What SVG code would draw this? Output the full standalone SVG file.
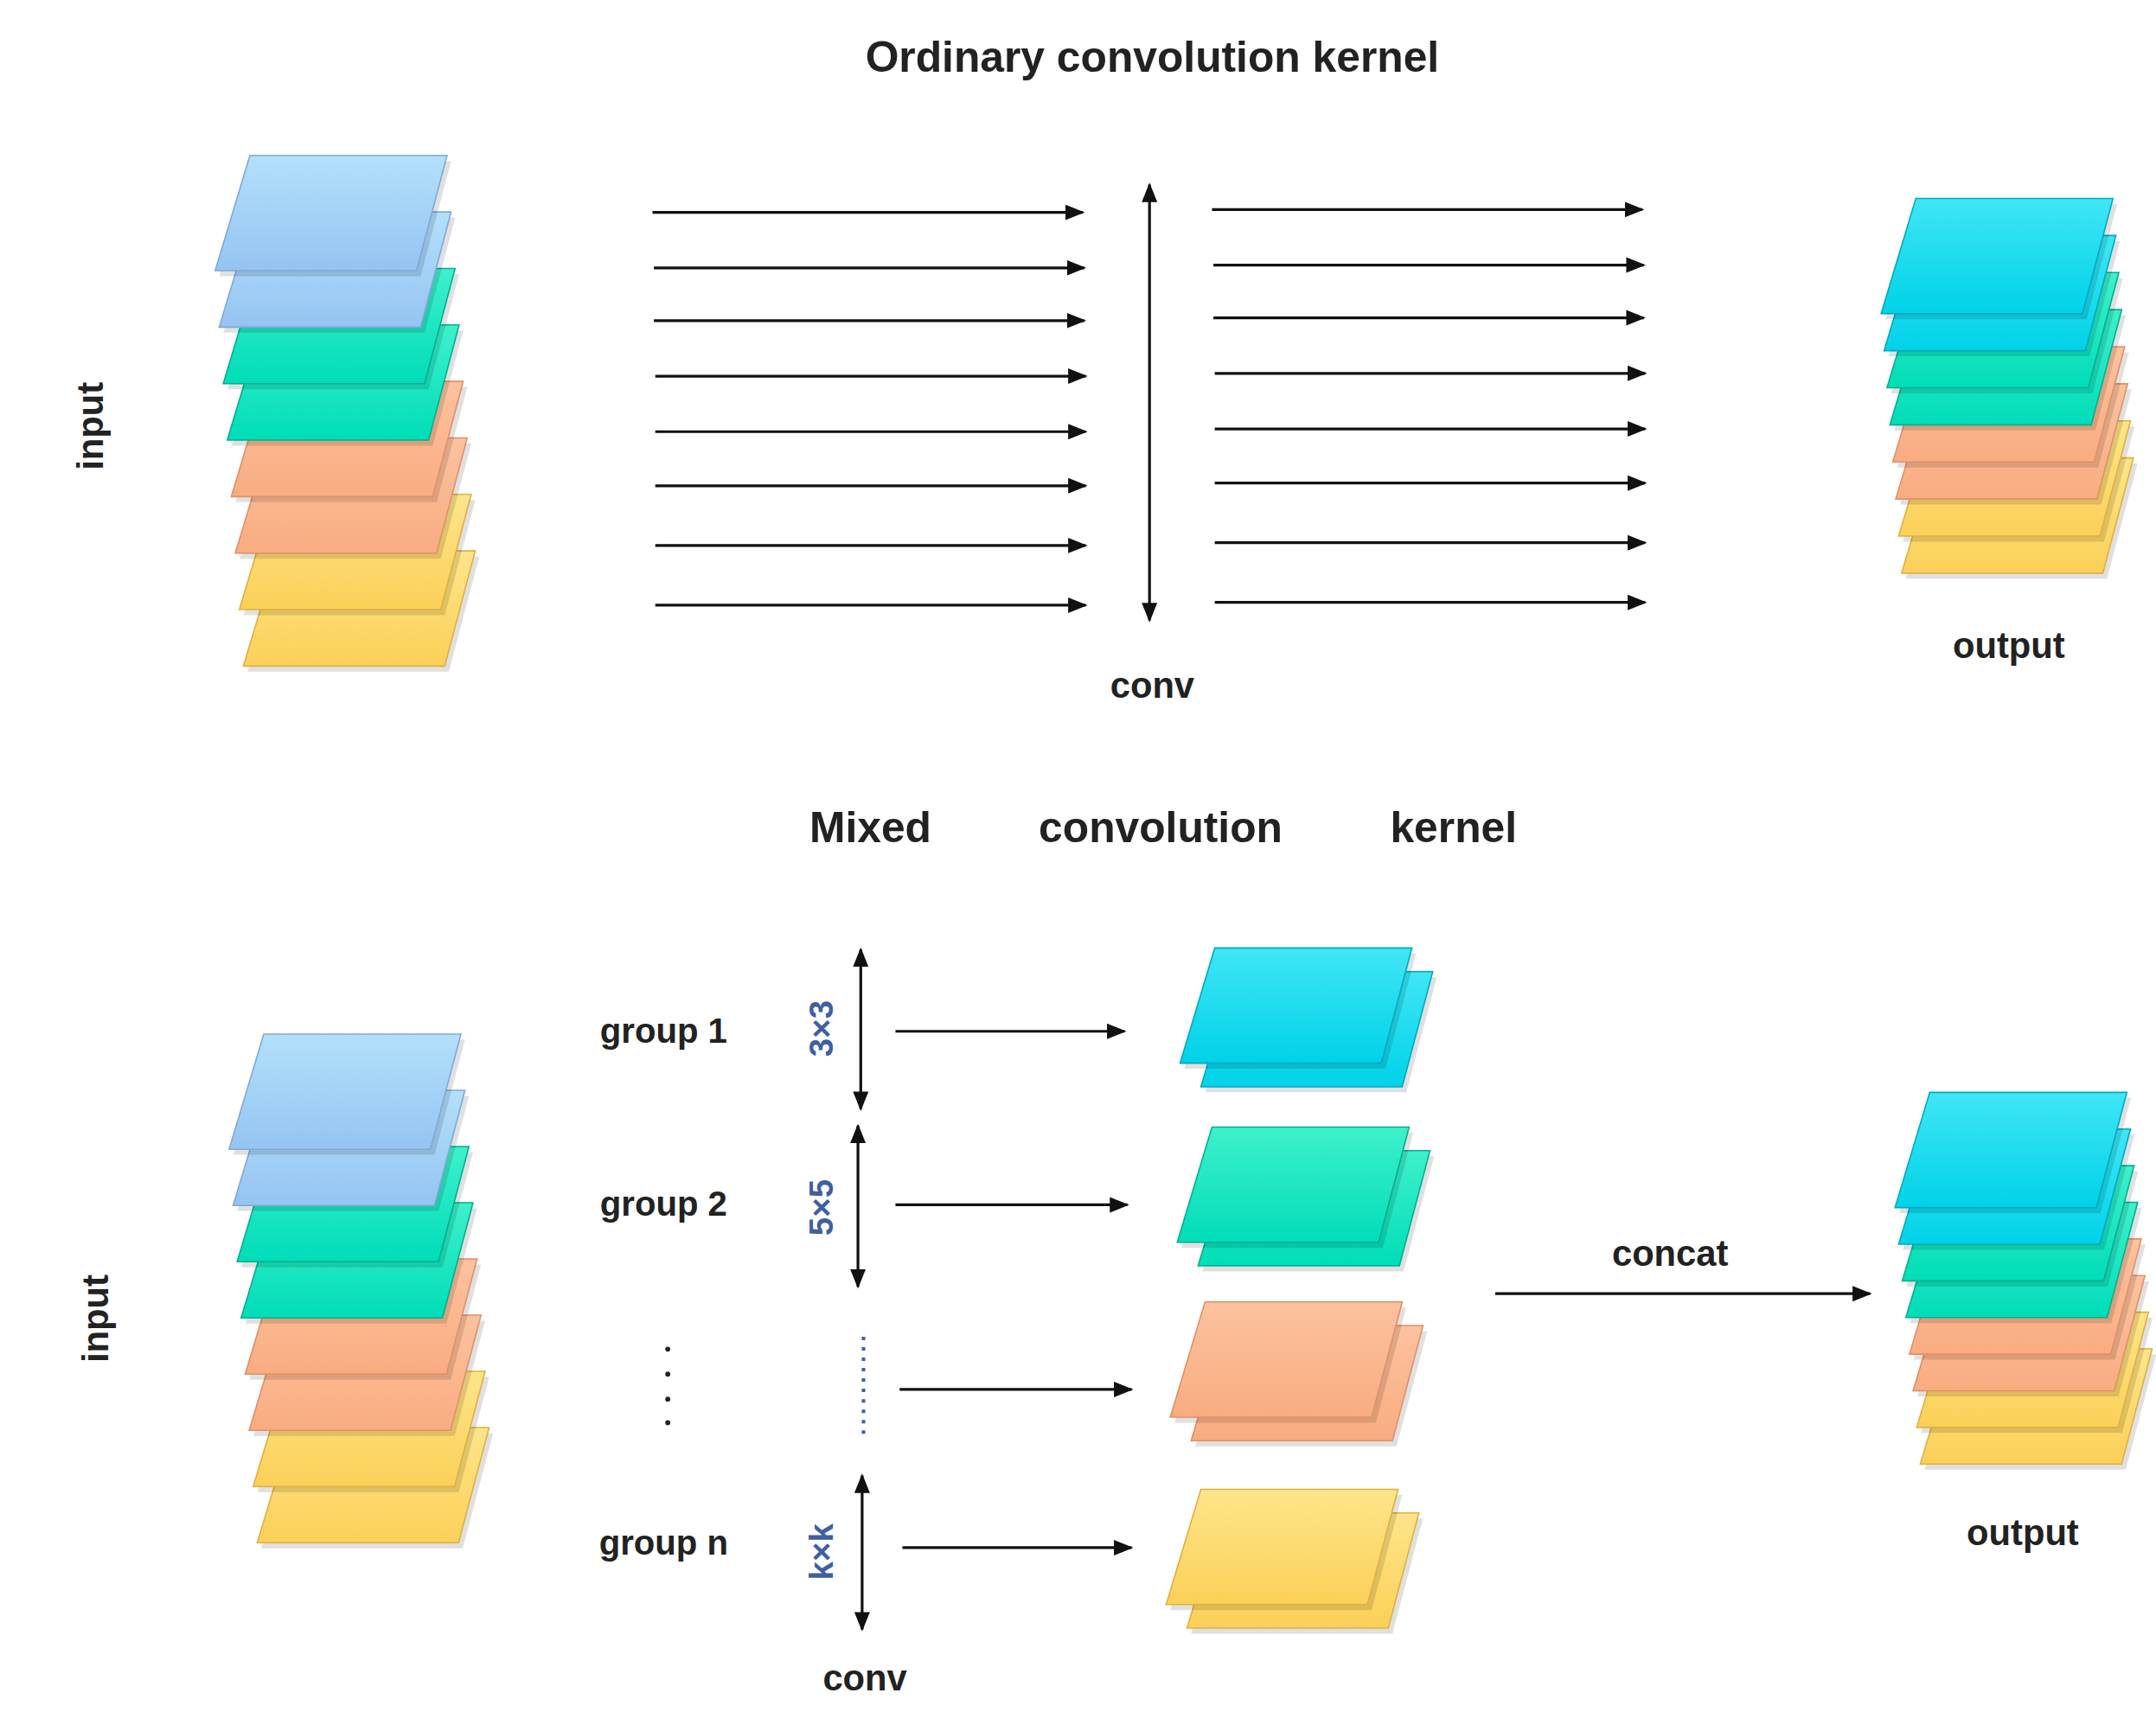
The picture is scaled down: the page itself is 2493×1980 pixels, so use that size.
<svg xmlns="http://www.w3.org/2000/svg" xmlns:xlink="http://www.w3.org/1999/xlink" width="2493" height="1980" viewBox="0 0 2493 1980">
<style>
text{font-family:"Liberation Sans",Arial,sans-serif;font-weight:bold;fill:#222}
.t{font-size:31px}.l{font-size:26px}.g{font-size:25px}.k{font-size:24px;fill:#3f5fa0}
.a{stroke:#111;stroke-width:2;fill:none}
.sh{fill:#000;opacity:0.12}
</style>
<defs>
<marker id="ah" viewBox="0 0 10 8" refX="9" refY="4" markerWidth="7" markerHeight="6" orient="auto-start-reverse" markerUnits="strokeWidth"><path d="M0,0 L10,4 L0,8 Z" fill="#111"/></marker>
<path id="s" d="M25,0 H167 L145,83 H0 Z"/>
<linearGradient id="bl" x1="0" y1="0" x2="0" y2="1"><stop offset="0" stop-color="#b3e0fb"/><stop offset="1" stop-color="#95c4f2"/></linearGradient>
<linearGradient id="gr" x1="0" y1="0" x2="0" y2="1"><stop offset="0" stop-color="#3ff0cc"/><stop offset="1" stop-color="#00ddb8"/></linearGradient>
<linearGradient id="or" x1="0" y1="0" x2="0" y2="1"><stop offset="0" stop-color="#fcc29f"/><stop offset="1" stop-color="#f9ac80"/></linearGradient>
<linearGradient id="ye" x1="0" y1="0" x2="0" y2="1"><stop offset="0" stop-color="#fee58a"/><stop offset="1" stop-color="#fbd058"/></linearGradient>
<linearGradient id="cy" x1="0" y1="0" x2="0" y2="1"><stop offset="0" stop-color="#40e6f5"/><stop offset="1" stop-color="#00d2e8"/></linearGradient>
</defs>
<rect width="2493" height="1980" fill="#fff"/>
<g transform="scale(1.6053)">
<text class="t" x="830" y="52" text-anchor="middle">Ordinary convolution kernel</text>
<text class="l" transform="translate(74,307) rotate(-90)" text-anchor="middle">input</text>
<text class="l" x="1447" y="474" text-anchor="middle">output</text>
<text class="l" x="830" y="503" text-anchor="middle">conv</text>
<text class="t" x="627" y="607" text-anchor="middle">Mixed</text>
<text class="t" x="836" y="607" text-anchor="middle">convolution</text>
<text class="t" x="1047" y="607" text-anchor="middle">kernel</text>
<text class="l" transform="translate(78,950) rotate(-90)" text-anchor="middle">input</text>
<text class="l" x="1457" y="1113" text-anchor="middle">output</text>
<text class="l" x="623" y="1218" text-anchor="middle">conv</text>
<text class="g" x="478" y="751" text-anchor="middle">group 1</text>
<text class="g" x="478" y="876" text-anchor="middle">group 2</text>
<text class="g" x="478" y="1120" text-anchor="middle">group n</text>
<text class="k" transform="translate(600,741) rotate(-90)" text-anchor="middle">3×3</text>
<text class="k" transform="translate(600,870) rotate(-90)" text-anchor="middle">5×5</text>
<text class="k" transform="translate(600,1118) rotate(-90)" text-anchor="middle">k×k</text>
<text class="l" x="1203" y="912" text-anchor="middle">concat</text>
<g id="dots" fill="#222"><circle cx="481" cy="972" r="1.8"/><circle cx="481" cy="990" r="1.8"/><circle cx="481" cy="1008" r="1.8"/><circle cx="481" cy="1025" r="1.8"/></g>
<line x1="622" y1="963" x2="622" y2="1036" stroke="#3f5fa0" stroke-width="2.5" stroke-dasharray="2.5,5"/>

<g id="input-top" stroke-width="1">
<use href="#s" class="sh" x="178.3" y="400.9"/><use href="#s" x="175.3" y="396.9" fill="url(#ye)" stroke="#e0b040"/>
<use href="#s" class="sh" x="175.4" y="360.2"/><use href="#s" x="172.4" y="356.2" fill="url(#ye)" stroke="#e0b040"/>
<use href="#s" class="sh" x="172.5" y="319.5"/><use href="#s" x="169.5" y="315.5" fill="url(#or)" stroke="#e09068"/>
<use href="#s" class="sh" x="169.6" y="278.8"/><use href="#s" x="166.6" y="274.8" fill="url(#or)" stroke="#e09068"/>
<use href="#s" class="sh" x="166.7" y="238.1"/><use href="#s" x="163.7" y="234.1" fill="url(#gr)" stroke="#00b090"/>
<use href="#s" class="sh" x="163.8" y="197.4"/><use href="#s" x="160.8" y="193.4" fill="url(#gr)" stroke="#00b090"/>
<use href="#s" class="sh" x="160.9" y="156.7"/><use href="#s" x="157.9" y="152.7" fill="url(#bl)" stroke="#80a8d8"/>
<use href="#s" class="sh" x="158" y="116"/><use href="#s" x="155" y="112" fill="url(#bl)" stroke="#80a8d8"/>
</g>
<g id="output-top">
<use href="#s" class="sh" x="1372.7" y="333.9"/><use href="#s" x="1369.7" y="329.9" fill="url(#ye)" stroke="#e0b040"/>
<use href="#s" class="sh" x="1370.6" y="307.2"/><use href="#s" x="1367.6" y="303.2" fill="url(#ye)" stroke="#e0b040"/>
<use href="#s" class="sh" x="1368.5" y="280.5"/><use href="#s" x="1365.5" y="276.5" fill="url(#or)" stroke="#e09068"/>
<use href="#s" class="sh" x="1366.4" y="253.8"/><use href="#s" x="1363.4" y="249.8" fill="url(#or)" stroke="#e09068"/>
<use href="#s" class="sh" x="1364.3" y="227.1"/><use href="#s" x="1361.3" y="223.1" fill="url(#gr)" stroke="#00b090"/>
<use href="#s" class="sh" x="1362.2" y="200.4"/><use href="#s" x="1359.2" y="196.4" fill="url(#gr)" stroke="#00b090"/>
<use href="#s" class="sh" x="1360.1" y="173.7"/><use href="#s" x="1357.1" y="169.7" fill="url(#cy)" stroke="#00aac0"/>
<use href="#s" class="sh" x="1358" y="147"/><use href="#s" x="1355" y="143" fill="url(#cy)" stroke="#00aac0"/>
</g>
<g id="input-bottom">
<use href="#s" class="sh" x="188.3" y="1032.5"/><use href="#s" x="185.3" y="1028.5" fill="url(#ye)" stroke="#e0b040"/>
<use href="#s" class="sh" x="185.4" y="992"/><use href="#s" x="182.4" y="988" fill="url(#ye)" stroke="#e0b040"/>
<use href="#s" class="sh" x="182.5" y="951.5"/><use href="#s" x="179.5" y="947.5" fill="url(#or)" stroke="#e09068"/>
<use href="#s" class="sh" x="179.6" y="911"/><use href="#s" x="176.6" y="907" fill="url(#or)" stroke="#e09068"/>
<use href="#s" class="sh" x="176.7" y="870.5"/><use href="#s" x="173.7" y="866.5" fill="url(#gr)" stroke="#00b090"/>
<use href="#s" class="sh" x="173.8" y="830"/><use href="#s" x="170.8" y="826" fill="url(#gr)" stroke="#00b090"/>
<use href="#s" class="sh" x="170.9" y="789.5"/><use href="#s" x="167.9" y="785.5" fill="url(#bl)" stroke="#80a8d8"/>
<use href="#s" class="sh" x="168" y="749"/><use href="#s" x="165" y="745" fill="url(#bl)" stroke="#80a8d8"/>
</g>
<g id="output-bottom">
<use href="#s" class="sh" x="1386.2" y="975.8"/><use href="#s" x="1383.2" y="971.8" fill="url(#ye)" stroke="#e0b040"/>
<use href="#s" class="sh" x="1383.6" y="949.4"/><use href="#s" x="1380.6" y="945.4" fill="url(#ye)" stroke="#e0b040"/>
<use href="#s" class="sh" x="1381" y="923"/><use href="#s" x="1378" y="919" fill="url(#or)" stroke="#e09068"/>
<use href="#s" class="sh" x="1378.4" y="896.6"/><use href="#s" x="1375.4" y="892.6" fill="url(#or)" stroke="#e09068"/>
<use href="#s" class="sh" x="1375.8" y="870.2"/><use href="#s" x="1372.8" y="866.2" fill="url(#gr)" stroke="#00b090"/>
<use href="#s" class="sh" x="1373.2" y="843.8"/><use href="#s" x="1370.2" y="839.8" fill="url(#gr)" stroke="#00b090"/>
<use href="#s" class="sh" x="1370.6" y="817.4"/><use href="#s" x="1367.6" y="813.4" fill="url(#cy)" stroke="#00aac0"/>
<use href="#s" class="sh" x="1368" y="791"/><use href="#s" x="1365" y="787" fill="url(#cy)" stroke="#00aac0"/>
</g>
<g id="group1-out">
<use href="#s" class="sh" x="868" y="704"/><use href="#s" x="865" y="700" fill="url(#cy)" stroke="#00aac0"/>
<use href="#s" class="sh" x="853" y="687"/><use href="#s" x="850" y="683" fill="url(#cy)" stroke="#00aac0"/>
</g>
<g id="group2-out">
<use href="#s" class="sh" x="866" y="833"/><use href="#s" x="863" y="829" fill="url(#gr)" stroke="#00b090"/>
<use href="#s" class="sh" x="851" y="816"/><use href="#s" x="848" y="812" fill="url(#gr)" stroke="#00b090"/>
</g>
<g id="group3-out">
<use href="#s" class="sh" x="861" y="959"/><use href="#s" x="858" y="955" fill="url(#or)" stroke="#e09068"/>
<use href="#s" class="sh" x="846" y="942"/><use href="#s" x="843" y="938" fill="url(#or)" stroke="#e09068"/>
</g>
<g id="groupn-out">
<use href="#s" class="sh" x="858" y="1094"/><use href="#s" x="855" y="1090" fill="url(#ye)" stroke="#e0b040"/>
<use href="#s" class="sh" x="843" y="1077"/><use href="#s" x="840" y="1073" fill="url(#ye)" stroke="#e0b040"/>
</g>

<g id="connectors" class="a">
<line class="a" x1="470" y1="153" x2="780" y2="153" marker-end="url(#ah)"/>
<line class="a" x1="471" y1="193" x2="781" y2="193" marker-end="url(#ah)"/>
<line class="a" x1="471" y1="231" x2="781" y2="231" marker-end="url(#ah)"/>
<line class="a" x1="472" y1="271" x2="782" y2="271" marker-end="url(#ah)"/>
<line class="a" x1="472" y1="311" x2="782" y2="311" marker-end="url(#ah)"/>
<line class="a" x1="472" y1="350" x2="782" y2="350" marker-end="url(#ah)"/>
<line class="a" x1="472" y1="393" x2="782" y2="393" marker-end="url(#ah)"/>
<line class="a" x1="472" y1="436" x2="782" y2="436" marker-end="url(#ah)"/>
<line class="a" x1="873" y1="151" x2="1183" y2="151" marker-end="url(#ah)"/>
<line class="a" x1="874" y1="191" x2="1184" y2="191" marker-end="url(#ah)"/>
<line class="a" x1="874" y1="229" x2="1184" y2="229" marker-end="url(#ah)"/>
<line class="a" x1="875" y1="269" x2="1185" y2="269" marker-end="url(#ah)"/>
<line class="a" x1="875" y1="309" x2="1185" y2="309" marker-end="url(#ah)"/>
<line class="a" x1="875" y1="348" x2="1185" y2="348" marker-end="url(#ah)"/>
<line class="a" x1="875" y1="391" x2="1185" y2="391" marker-end="url(#ah)"/>
<line class="a" x1="875" y1="434" x2="1185" y2="434" marker-end="url(#ah)"/>
<line class="a" x1="828" y1="133" x2="828" y2="447" marker-start="url(#ah)" marker-end="url(#ah)"/>
<line class="a" x1="620" y1="684" x2="620" y2="799" marker-start="url(#ah)" marker-end="url(#ah)"/>
<line class="a" x1="618" y1="811" x2="618" y2="927" marker-start="url(#ah)" marker-end="url(#ah)"/>
<line class="a" x1="621" y1="1063" x2="621" y2="1174" marker-start="url(#ah)" marker-end="url(#ah)"/>
<line class="a" x1="645" y1="743" x2="810" y2="743" marker-end="url(#ah)"/>
<line class="a" x1="645" y1="868" x2="812" y2="868" marker-end="url(#ah)"/>
<line class="a" x1="648" y1="1001" x2="815" y2="1001" marker-end="url(#ah)"/>
<line class="a" x1="650" y1="1115" x2="815" y2="1115" marker-end="url(#ah)"/>
<line class="a" x1="1077" y1="932" x2="1347" y2="932" marker-end="url(#ah)"/>
</g>
</g>
</svg>
